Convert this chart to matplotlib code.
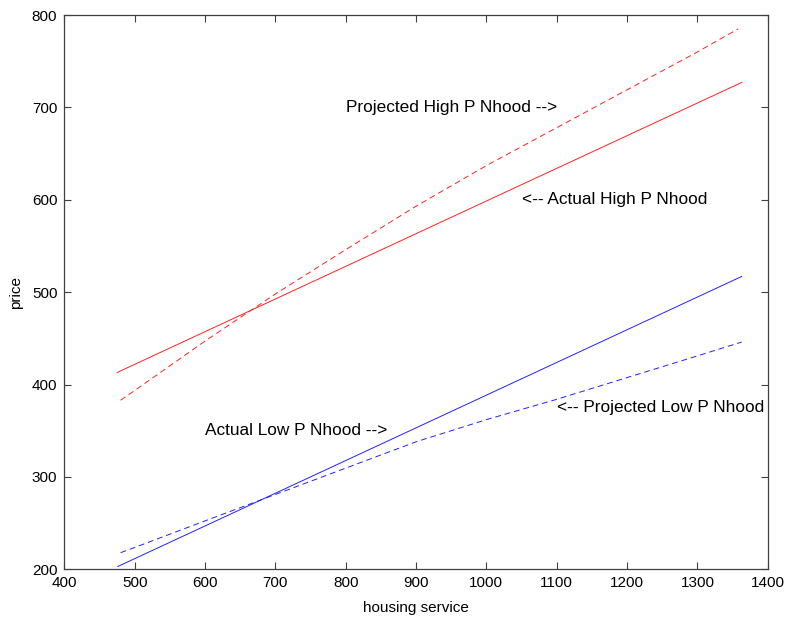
import matplotlib
matplotlib.use("Agg")
import matplotlib.pyplot as plt

# Housing service levels and prices for the four neighbourhood curves
actual_high_x = [475, 1363]
actual_high_y = [413, 727]

projected_high_x = [480, 500, 600, 700, 800, 900, 1000, 1100, 1200, 1300, 1358]
projected_high_y = [383, 393.5, 447, 498, 546, 593, 637, 678, 719, 760, 785]

actual_low_x = [476, 1363]
actual_low_y = [203, 517]

projected_low_x = [480, 500, 600, 700, 800, 900, 1000, 1100, 1200, 1300, 1363]
projected_low_y = [218, 223.6, 252.4, 281, 309.5, 338, 362, 384, 407.5, 431, 446]

x_ticks = [400, 500, 600, 700, 800, 900, 1000, 1100, 1200, 1300, 1400]
y_ticks = [200, 300, 400, 500, 600, 700, 800]

plt.rcParams['font.family'] = ['Liberation Sans', 'DejaVu Sans']

fig = plt.figure(figsize=(7.87, 6.18), dpi=100)
ax = fig.add_axes([0.0817, 0.0788, 0.8938, 0.8969])

dash = (0, (6, 4))
ax.plot(actual_high_x, actual_high_y, color='#ff2020', lw=0.7)
ax.plot(projected_high_x, projected_high_y, color='#ff2020', lw=0.7, linestyle=dash)
ax.plot(actual_low_x, actual_low_y, color='#2020ff', lw=0.7)
ax.plot(projected_low_x, projected_low_y, color='#2020ff', lw=0.7, linestyle=dash)

txt = dict(fontsize=12.4, va='center', ha='left', color='black')
ax.text(800, 700, 'Projected High P Nhood -->', **txt)
ax.text(1050, 600, '<-- Actual High P Nhood', **txt)
ax.text(600, 350, 'Actual Low P Nhood -->', **txt)
ax.text(1100, 375, '<-- Projected Low P Nhood', **txt)

ax.set_xlim(400, 1400)
ax.set_ylim(200, 800)
ax.set_xticks(x_ticks)
ax.set_yticks(y_ticks)
ax.tick_params(direction='in', length=5, width=0.8, color='#404040',
               top=True, right=True, labelsize=11, pad=5)
for s in ax.spines.values():
    s.set_color('#404040')
    s.set_linewidth(0.9)

ax.set_xlabel('housing service', fontsize=11, labelpad=8)
ax.set_ylabel('price', fontsize=11, labelpad=6)

fig.savefig('out.png', dpi=100)
